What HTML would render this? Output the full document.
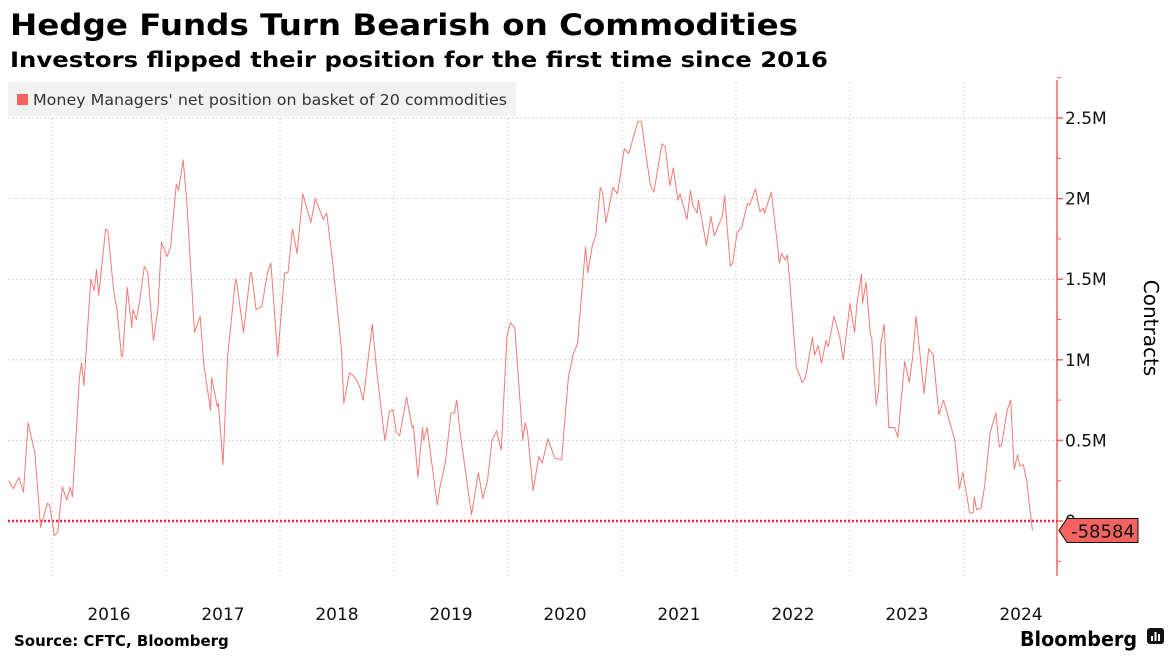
<!DOCTYPE html>
<html><head><meta charset="utf-8">
<style>
html,body{margin:0;padding:0;background:#fff;}
svg{display:block;font-family:"DejaVu Sans","Liberation Sans",sans-serif;}
</style></head>
<body>
<svg id="chart" width="1176" height="661" viewBox="0 0 1176 661" xmlns="http://www.w3.org/2000/svg">
<text x="10" y="35" font-size="29" font-weight="bold" fill="#000" textLength="788" lengthAdjust="spacingAndGlyphs">Hedge Funds Turn Bearish on Commodities</text>
<text x="10" y="67" font-size="21" font-weight="bold" fill="#000" textLength="818" lengthAdjust="spacingAndGlyphs">Investors flipped their position for the first time since 2016</text>
<g id="grid"></g>
<rect x="8" y="82" width="508" height="34" fill="#f2f2f2"/>
<rect x="17" y="94" width="11" height="11" fill="#f4635f"/>
<text x="33" y="105" font-size="15" fill="#333" textLength="474" lengthAdjust="spacingAndGlyphs">Money Managers' net position on basket of 20 commodities</text>
<g id="plot"></g>
<text transform="translate(1144,328) rotate(90)" font-size="20" fill="#000" text-anchor="middle">Contracts</text>
<text x="14" y="646" font-size="15" font-weight="bold" fill="#000">Source: CFTC, Bloomberg</text>
<text x="1020" y="646" font-size="20" font-weight="bold" fill="#000" textLength="117" lengthAdjust="spacingAndGlyphs">Bloomberg</text>
<g><rect x="1147" y="628" width="17" height="16" rx="3" fill="#111"/><rect x="1151" y="636" width="2" height="5" fill="#fff"/><rect x="1154.5" y="632" width="2" height="9" fill="#fff"/><rect x="1158" y="634" width="2" height="7" fill="#fff"/></g>
</svg>
<script>
const dates=[2015.62,2015.66,2015.71,2015.75,2015.79,2015.85,2015.90,2015.96,2015.98,2016.02,2016.05,2016.09,2016.13,2016.16,2016.18,2016.24,2016.26,2016.28,2016.34,2016.37,2016.39,2016.41,2016.47,2016.49,2016.54,2016.57,2016.61,2016.62,2016.66,2016.70,2016.71,2016.74,2016.77,2016.81,2016.84,2016.89,2016.93,2016.96,2017.01,2017.04,2017.09,2017.11,2017.15,2017.18,2017.25,2017.30,2017.33,2017.39,2017.40,2017.45,2017.46,2017.50,2017.54,2017.61,2017.62,2017.68,2017.74,2017.75,2017.79,2017.84,2017.89,2017.92,2017.98,2018.04,2018.07,2018.11,2018.15,2018.20,2018.27,2018.31,2018.38,2018.41,2018.46,2018.54,2018.56,2018.61,2018.66,2018.70,2018.73,2018.81,2018.85,2018.92,2018.96,2018.99,2019.02,2019.05,2019.11,2019.16,2019.17,2019.21,2019.25,2019.26,2019.29,2019.38,2019.40,2019.45,2019.50,2019.53,2019.55,2019.58,2019.68,2019.74,2019.78,2019.82,2019.86,2019.90,2019.94,2019.99,2020.02,2020.06,2020.13,2020.15,2020.17,2020.22,2020.27,2020.30,2020.35,2020.41,2020.47,2020.53,2020.57,2020.61,2020.68,2020.70,2020.74,2020.77,2020.81,2020.83,2020.86,2020.92,2020.96,2020.98,2021.02,2021.06,2021.09,2021.14,2021.17,2021.20,2021.25,2021.28,2021.35,2021.38,2021.42,2021.45,2021.49,2021.51,2021.57,2021.60,2021.62,2021.66,2021.67,2021.74,2021.78,2021.81,2021.88,2021.90,2021.95,2021.97,2022.01,2022.05,2022.10,2022.12,2022.17,2022.21,2022.24,2022.25,2022.31,2022.36,2022.38,2022.40,2022.43,2022.45,2022.47,2022.53,2022.55,2022.58,2022.61,2022.67,2022.69,2022.72,2022.75,2022.79,2022.81,2022.86,2022.91,2022.94,2023.00,2023.04,2023.06,2023.10,2023.11,2023.14,2023.18,2023.19,2023.23,2023.25,2023.27,2023.30,2023.34,2023.39,2023.42,2023.48,2023.52,2023.55,2023.58,2023.65,2023.69,2023.73,2023.78,2023.82,2023.92,2023.96,2023.99,2024.05,2024.08,2024.09,2024.11,2024.15,2024.18,2024.23,2024.28,2024.31,2024.33,2024.38,2024.41,2024.44,2024.47,2024.49,2024.52,2024.55,2024.60];
const positions=[0.25,0.20,0.27,0.18,0.61,0.42,-0.04,0.11,0.10,-0.09,-0.07,0.21,0.13,0.21,0.15,0.89,0.98,0.84,1.50,1.43,1.56,1.40,1.81,1.80,1.43,1.31,1.02,1.03,1.45,1.20,1.31,1.25,1.37,1.58,1.54,1.12,1.32,1.73,1.64,1.70,2.09,2.05,2.24,2.01,1.17,1.27,0.98,0.69,0.89,0.71,0.73,0.35,1.02,1.50,1.48,1.17,1.54,1.54,1.31,1.33,1.54,1.60,1.02,1.54,1.54,1.81,1.66,2.03,1.85,2.00,1.87,1.91,1.62,1.06,0.73,0.92,0.89,0.83,0.75,1.22,0.92,0.50,0.68,0.69,0.55,0.53,0.77,0.58,0.59,0.27,0.58,0.50,0.58,0.10,0.20,0.36,0.67,0.67,0.75,0.55,0.04,0.30,0.14,0.25,0.50,0.56,0.44,1.14,1.23,1.20,0.50,0.61,0.56,0.19,0.40,0.36,0.51,0.39,0.38,0.89,1.03,1.10,1.70,1.54,1.71,1.77,2.07,2.04,1.85,2.07,2.03,2.12,2.31,2.28,2.36,2.48,2.48,2.32,2.08,2.04,2.34,2.32,2.08,2.19,1.99,2.03,1.87,2.05,1.96,1.91,1.99,1.71,1.89,1.77,1.89,2.02,1.58,1.60,1.79,1.82,1.97,1.96,2.06,1.92,1.94,1.91,2.04,1.74,1.60,1.66,1.62,1.65,1.50,0.95,0.92,0.86,0.89,1.14,1.03,1.09,0.98,1.12,1.08,1.27,1.14,1.00,1.35,1.17,1.34,1.53,1.35,1.48,1.15,1.14,0.72,0.81,1.10,1.22,0.58,0.58,0.52,0.99,0.86,1.02,1.27,0.79,1.07,1.03,0.66,0.75,0.50,0.20,0.30,0.05,0.05,0.15,0.07,0.08,0.21,0.55,0.67,0.46,0.47,0.69,0.75,0.32,0.41,0.34,0.35,0.25,-0.058584];
const yTicks=[0,0.5,1,1.5,2,2.5];
const yTickLabels=["0","0.5M","1M","1.5M","2M","2.5M"];
const years=[2016,2017,2018,2019,2020,2021,2022,2023,2024];
const lastValueLabel="-58584";

const NS="http://www.w3.org/2000/svg";
function xScale(d){return 52+(d-2016)*114;}
function yScale(v){return 521-v*161.2;}
function mk(tag,attrs,parent){const e=document.createElementNS(NS,tag);for(const k in attrs)e.setAttribute(k,attrs[k]);parent.appendChild(e);return e;}
const grid=document.getElementById('grid'), plot=document.getElementById('plot');
const axisX=1057;
yTicks.forEach((t,i)=>{
  if(t!==0){const g=mk('line',{x1:8,x2:axisX,y1:yScale(t),y2:yScale(t),stroke:'#d6d6d6','stroke-dasharray':'2,2','stroke-width':1},grid);
  
  }
  const tk=mk('line',{x1:axisX,x2:axisX+6,y1:yScale(t),y2:yScale(t),stroke:'#f4635f','stroke-width':1.5},plot);
  
  
  const lb=mk('text',{x:axisX+8,y:yScale(t)+6,'font-size':17,fill:'#111'},plot);
  lb.textContent=yTickLabels[i];
  
  
});
for(let v=-0.25;v<2.8;v+=0.5){
  const m=mk('line',{x1:axisX,x2:axisX+4,y1:yScale(v),y2:yScale(v),stroke:'#f4635f','stroke-width':1},plot);
  
  
}
years.forEach(yr=>{
  const g=mk('line',{x1:xScale(yr),x2:xScale(yr),y1:82,y2:578,stroke:'#d6d6d6','stroke-dasharray':'2,2','stroke-width':1},grid);
  
  
  const lb=mk('text',{x:xScale(yr+0.5),y:620,'font-size':17,fill:'#111','text-anchor':'middle'},plot);
  lb.textContent=String(yr);
  
  
});
const ax=mk('line',{x1:axisX,x2:axisX,y1:80,y2:576,stroke:'#f4635f','stroke-width':1.5},plot);


const zl=mk('line',{x1:8,x2:axisX,y1:yScale(0),y2:yScale(0),stroke:'#e8283c','stroke-width':2.5,'stroke-dasharray':'2,2'},plot);


const pts=dates.map((d,i)=>xScale(d).toFixed(1)+','+yScale(positions[i]).toFixed(1)).join(' ');
const ln=mk('polyline',{points:pts,fill:'none',stroke:'#f27a76','stroke-width':1,'stroke-linejoin':'round'},plot);


const ly=yScale(positions[positions.length-1]);
const tag=mk('path',{d:`M${axisX+2},${ly} L${axisX+10},${ly-12} L${axisX+81},${ly-12} L${axisX+81},${ly+12} L${axisX+10},${ly+12} Z`,fill:'#f4635f',stroke:'#111','stroke-width':1},plot);


const tt=mk('text',{x:axisX+46,y:ly+7,'font-size':18,fill:'#111','text-anchor':'middle'},plot);
tt.textContent=lastValueLabel;


</script>
</body></html>
